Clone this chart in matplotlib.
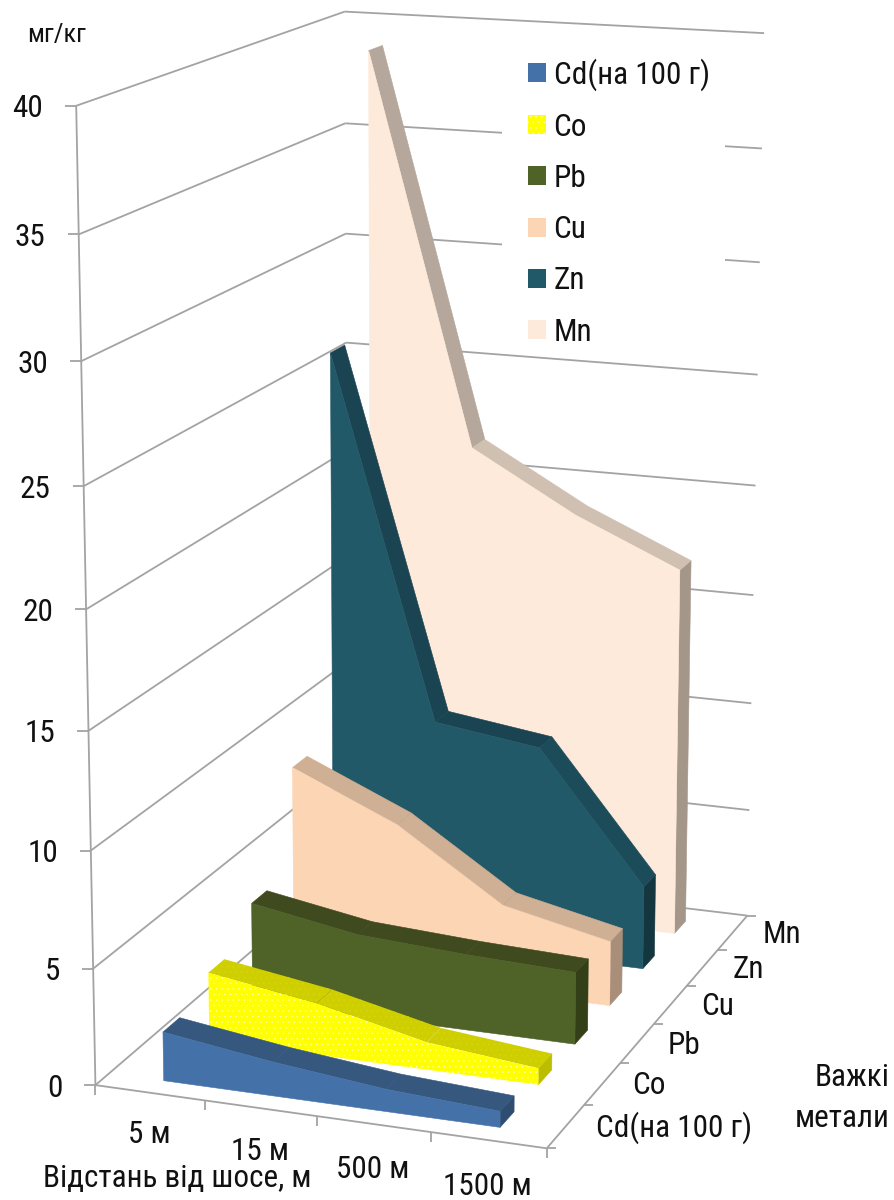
import numpy as np
import matplotlib
matplotlib.use("Agg")
import matplotlib.pyplot as plt
from matplotlib.patches import Patch, Rectangle

# Heavy-metal content along a road, by distance and element
distances = ["5 м", "15 м", "500 м", "1500 м"]
metals = ["Cd(на 100 г)", "Co", "Pb", "Cu", "Zn", "Mn"]
cd = [2.10, 1.45, 0.95, 0.68]
co = [2.98, 2.26, 1.19, 0.71]
pb = [4.43, 3.62, 3.34, 3.16]
cu = [9.03, 6.99, 3.92, 2.88]
zn = [26.36, 10.21, 9.55, 3.76]
mn = [38.84, 21.47, 18.84, 16.78]
series = [cd, co, pb, cu, zn, mn]
z_ticks = [0, 5, 10, 15, 20, 25, 30, 35, 40]

front_colors = ["#4472A8", "#FFFF00", "#4F6228", "#FCD5B5", "#215968", "#FDEADA"]
top_colors = [
    ["#36587F"] * 3,
    ["#CFCF00"] * 3,
    ["#3F4A1F"] * 3,
    ["#CFB094"] * 3,
    ["#1A4452", "#1A4452", "#1C4B59"],
    ["#B5A79B", "#D0C0B2", "#D0C0B2"],
]
side_colors = ["#2F4D70", "#BDBD00", "#333F17", "#A98E7A", "#13363F", "#A5968A"]
GRID = "#A3A3A3"
INK = "#111111"

plt.rcParams["font.family"] = ["Roboto Condensed", "Liberation Sans", "DejaVu Sans"]
plt.rcParams["hatch.linewidth"] = 0.3
FS = 22.5

# Perspective camera: (distance slot, metal slot, concentration) -> canvas pixels
CAMERA = np.array([
    [107.9767102, 50.9005068, -0.5860721, 95.4322483],
    [5.6025074, -14.5412657, -24.6292394, 1085.1118101],
    [-0.0088793, 0.0249734, -0.0013798, 1.0],
])


def project(x, y, z):
    h = CAMERA @ np.array([x, y, z, 1.0])
    return h[0] / h[2], h[1] / h[2]


def poly(ax, corners, color, zorder, dots=None):
    pts = [project(*c) for c in corners]
    if dots:
        ax.fill(*zip(*pts), facecolor=color, edgecolor=dots, hatch="...",
                linewidth=0, zorder=zorder)
    else:
        ax.fill(*zip(*pts), facecolor=color, edgecolor=color, linewidth=0.4, zorder=zorder)


def seg(ax, a, b, zorder=1, lw=1.3):
    ax.plot(*zip(a, b), color=GRID, lw=lw, zorder=zorder, solid_capstyle="butt")


fig = plt.figure(figsize=(8.95, 12), dpi=100, facecolor="white")
ax = fig.add_axes([0, 0, 1, 1])
ax.set_xlim(0, 895)
ax.set_ylim(1200, 0)
ax.axis("off")

nx, ny = len(distances), len(metals)

# Wall gridlines and the vertical axis
for z in z_ticks:
    seg(ax, project(0, 0, z), project(0, ny, z))
    seg(ax, project(0, ny, z), project(nx, ny, z))
    u, v = project(0, 0, z)
    seg(ax, (u - 11, v), (u, v))
    ax.text(u - 33, v + 3, str(z), ha="right", va="center", fontsize=FS, color=INK)
seg(ax, project(0, 0, 0), project(0, 0, max(z_ticks)))

# Floor edges with their ticks
seg(ax, project(0, 0, 0), project(nx, 0, 0))
seg(ax, project(nx, 0, 0), project(nx, ny, 0))
for i in range(nx + 1):
    u, v = project(i, 0, 0)
    seg(ax, (u, v), (u, v + 10))
for j in range(ny + 1):
    u, v = project(nx, j, 0)
    seg(ax, (u, v), (u + 9, v))
for i, name in enumerate(distances):
    u, v = project(i + 0.5, 0, 0)
    ax.text(u - 1, v + 42 + 1.6 * i, name, ha="center", va="center", fontsize=FS, color=INK)
for j, name in enumerate(metals):
    u, v = project(nx, j + 0.5, 0)
    ax.text(u + 30, v + 2, name, ha="left", va="center", fontsize=FS, color=INK)

# Area ribbons, drawn from the far row to the near one
DEPTH_FRONT, DEPTH_BACK = 0.29, 0.65
for j in reversed(range(ny)):
    vals = series[j]
    yf, yb = j + DEPTH_FRONT, j + DEPTH_BACK
    zo = 10 + 3 * (ny - j)
    xs = [i + 0.5 for i in range(nx)]
    dotted = metals[j] == "Co"
    # right end cap
    poly(ax, [(xs[-1], yf, 0), (xs[-1], yb, 0), (xs[-1], yb, vals[-1]), (xs[-1], yf, vals[-1])],
         side_colors[j], zo)
    # sloping top strips
    for k in range(nx - 1):
        poly(ax, [(xs[k], yf, vals[k]), (xs[k + 1], yf, vals[k + 1]),
                  (xs[k + 1], yb, vals[k + 1]), (xs[k], yb, vals[k])],
             top_colors[j][k], zo, dots="#D6D620" if dotted else None)
    # front face
    outline = [(x, yf, v) for x, v in zip(xs, vals)] + [(xs[-1], yf, 0), (xs[0], yf, 0)]
    poly(ax, outline, front_colors[j], zo + 1, dots="#FFFFC0" if dotted else None)

# Legend sits on an opaque white block that interrupts the gridlines
ax.add_patch(Rectangle((502, 44), 223, 300, facecolor="white", edgecolor="none", zorder=4))
handles = []
for name, c in zip(metals, front_colors):
    if name == "Co":
        handles.append(Patch(facecolor=c, edgecolor="#FFFFC0", linewidth=0, hatch="...", label=name))
    else:
        handles.append(Patch(facecolor=c, edgecolor="none", label=name))
leg = ax.legend(handles=handles, loc="upper left", bbox_to_anchor=(528, 58),
                bbox_transform=ax.transData, frameon=False, fontsize=FS,
                labelspacing=0.71, handlelength=0.58, handleheight=0.55,
                handletextpad=0.24, borderpad=0, borderaxespad=0)
leg.set_zorder(5)
for t in leg.get_texts():
    t.set_color(INK)

# Axis titles
ax.text(57, 35, "мг/кг", ha="center", va="center", fontsize=FS - 3.5, color=INK)
ax.text(177, 1179, "Відстань від шосе, м", ha="center", va="center", fontsize=FS, color=INK)
ax.text(890, 1098, "Важкі\nметали", ha="right", va="center", fontsize=FS,
        color=INK, linespacing=1.5)

fig.savefig("out.png", dpi=100, facecolor="white")
